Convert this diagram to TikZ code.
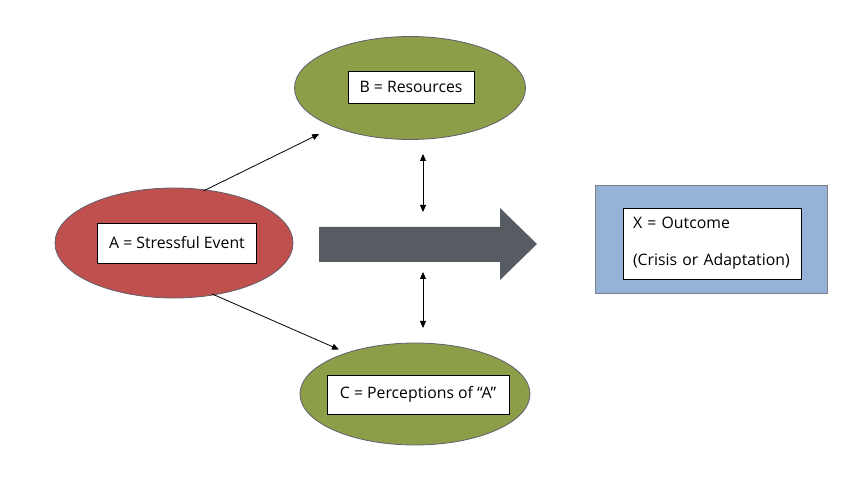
\documentclass[tikz,border=0pt]{standalone}
\usepackage{fontspec}
\setmainfont{Open Sans}
\usetikzlibrary{positioning,arrows.meta,shapes.geometric}
\definecolor{StressRed}{RGB}{192,80,77}
\definecolor{OliveFill}{RGB}{140,158,72}
\definecolor{OutBlue}{RGB}{149,179,215}
\definecolor{FlowGray}{RGB}{87,92,99}
\definecolor{EdgeGray}{RGB}{95,95,110}

\begin{document}
\begin{tikzpicture}[
    x=1pt, y=-1pt,
    blob/.style={ellipse, draw=EdgeGray, line width=0.8pt, inner sep=0pt},
    label box/.style={rectangle, draw=black, fill=white, line width=0.8pt,
        font=\fontsize{15.8}{19}\selectfont, inner sep=0pt},
    arr/.style={-{Triangle[length=7pt, width=6pt]}, line width=0.8pt, black},
    dbl/.style={{Triangle[length=7pt, width=6pt]}-{Triangle[length=7pt, width=6pt]}, line width=0.8pt, black},
]
\useasboundingbox (0,0) rectangle (862,478);

% the three factors and the outcome
\node[blob, fill=StressRed, minimum width=238pt, minimum height=110pt] (evA) at (174,243) {};
\node[label box, minimum width=159pt, minimum height=40pt] (lblA) at (177,243) {A = Stressful Event};
\node[blob, fill=OliveFill, minimum width=231pt, minimum height=103pt] (resB) at (410,88) {};
\node[label box, minimum width=126pt, minimum height=32pt] (lblB) at (411,87) {B = Resources};
\node[blob, fill=OliveFill, minimum width=230pt, minimum height=102pt] (perC) at (415,394) {};
\node[label box, minimum width=182pt, minimum height=39pt] (lblC) at (418,394.5) {C = Perceptions of ``A''};
\node[rectangle, draw=EdgeGray!80, fill=OutBlue, line width=0.8pt,
    minimum width=232pt, minimum height=108pt] (outX) at (711,239) {};
\node[label box, minimum width=178pt, minimum height=71pt, text width=158pt,
    align=left] (lblX) at (712,243.5) {X = Outcome\\[18pt](Crisis or Adaptation)};

% big flow arrow
\fill[FlowGray] (319,227) -- (500,227) -- (500,208) -- (537,244)
    -- (500,280) -- (500,262) -- (319,262) -- cycle;

\coordinate (up1) at (423,154);
\coordinate (up2) at (423,212);
\coordinate (lo1) at (423,272);
\coordinate (lo2) at (423,328);

\draw[arr, shorten <=-3pt, shorten >=16pt] (evA.59) -- (resB.207);
\draw[arr, shorten <=-3pt, shorten >=8pt] (evA.308) -- (perC.149);
\draw[dbl] (up1) -- (up2);
\draw[dbl] (lo1) -- (lo2);
\end{tikzpicture}
\end{document}
